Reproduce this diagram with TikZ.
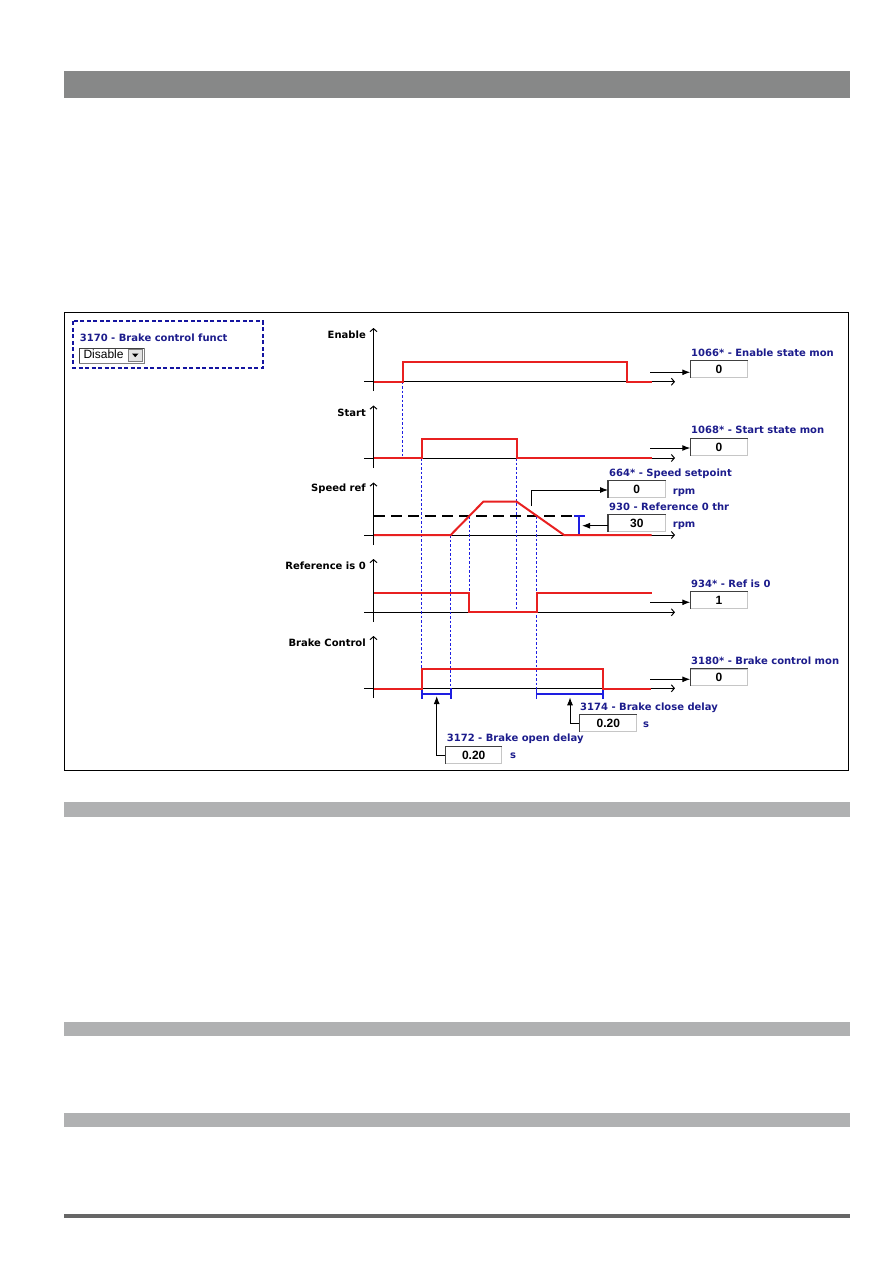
\documentclass[tikz,border=0pt]{standalone}
\usepackage{fontspec}
\setmainfont{DejaVu Sans}
\newfontfamily\guifont{Liberation Sans}
\usetikzlibrary{arrows.meta}
\definecolor{sigred}{RGB}{232,32,32}
\definecolor{lblue}{RGB}{28,28,140}
\definecolor{dblue}{RGB}{30,30,225}
\definecolor{boxblue}{RGB}{20,20,160}
\definecolor{bardark}{RGB}{135,136,136}
\definecolor{barlight}{RGB}{176,177,178}
\definecolor{rulegray}{RGB}{102,102,102}
\begin{document}
\begin{tikzpicture}[x=1pt,y=-1pt,
  sig/.style={sigred, line width=2pt, line join=miter},
  axis/.style={black, line width=1pt},
  axarrow/.style={axis, -{Straight Barb[length=3pt,width=7pt]}},
  vdot/.style={dblue, line width=1.4pt, dash pattern=on 2.5pt off 2pt},
  feed/.style={black, line width=1pt, -{Latex[length=8pt,width=6pt]}},
  brk/.style={dblue, line width=1.8pt},
  lbl/.style={anchor=base west, text=lblue, font=\fontsize{10}{12}\selectfont\bfseries, inner sep=0pt},
  sname/.style={anchor=base east, font=\fontsize{10}{12}\selectfont\bfseries, inner sep=0pt},
  valbox/.style={draw=gray!45, line width=1pt, fill=white, minimum width=56.5pt, minimum height=16.5pt, inner sep=0pt, font=\guifont\fontsize{12}{14}\selectfont\bfseries}
]
\useasboundingbox (0,0) rectangle (893,1263);

% page bars
\fill[bardark] (64,71) rectangle (850,98);
\fill[barlight] (64,802) rectangle (850,817);
\fill[barlight] (64,1022) rectangle (850,1036);
\fill[barlight] (64,1113) rectangle (850,1127);
\fill[rulegray] (64,1214) rectangle (850,1217.5);

% frame
\draw[line width=1pt] (64,312) rectangle (848,770);

% brake control funct selector
\draw[boxblue, line width=1.8pt, dash pattern=on 4pt off 2.5pt] (73.3,321.3) rectangle (262.7,368);
\node[lbl] (l3170) at (79.7,341) {3170 - Brake control funct};
\node[draw=gray, fill=white, minimum width=65pt, minimum height=14.7pt, inner sep=0pt, anchor=north west] (dd) at (79,348) {};
\draw[black!75, line width=1pt] (dd.south west) -- (dd.north west) -- (dd.north east);
\node[anchor=base west, inner sep=0pt, font=\guifont\fontsize{12}{14}\selectfont] (ddtxt) at (83.3,358.7) {Disable};
\draw[gray, fill=gray!22] (128,349.5) rectangle (142.5,361.5);
\fill (132,353.5) -- (138.5,353.5) -- (135.25,357.2) -- cycle;

% signal names
\node[sname] (nEnable) at (366,338.3) {Enable};
\node[sname] (nStart) at (366,416) {Start};
\node[sname] (nSpeed) at (366,491.7) {Speed ref};
\node[sname] (nRef) at (366,569) {Reference is 0};
\node[sname] (nBrake) at (366,646.7) {Brake Control};

% axes
\foreach \yb/\yt/\yz in {391/328/381.7, 468/405.5/458, 545/482.5/535, 622/559/612.3, 698/636/688.3}{
  \draw[axarrow] (373.5,\yb) -- (373.5,\yt);
  \draw[axarrow] (364,\yz) -- (675,\yz);
}

% threshold dashed line
\draw[black, line width=1.6pt, dash pattern=on 11pt off 6pt] (374,516) -- (580,516);

% dotted verticals
\draw[vdot] (402.7,381.7) -- (402.7,458);
\draw[vdot] (421.7,458) -- (421.7,698);
\draw[vdot] (450.7,535) -- (450.7,698);
\draw[vdot] (469.3,516) -- (469.3,612);
\draw[vdot] (516.7,458) -- (516.7,612);
\draw[vdot] (536.5,516) -- (536.5,698);

% brackets
\draw[brk] (421.7,688) -- (421.7,699) (421.7,694) -- (450.7,694) (450.7,688) -- (450.7,699);
\draw[brk] (536.5,688) -- (536.5,699) (536.5,694) -- (602.7,694) (602.7,688) -- (602.7,699);
\draw[brk] (579.3,516) -- (579.3,535.3) (574,516) -- (585,516) (574,535.3) -- (585,535.3);

% red signals
\draw[sig] (374,381.7) -- (402.7,381.7) -- (402.7,362.3) -- (626.7,362.3) -- (626.7,381.7) -- (651.7,381.7);
\draw[sig] (374,458) -- (421.7,458) -- (421.7,439) -- (516.7,439) -- (516.7,458) -- (651.7,458);
\draw[sig] (374,535) -- (450.7,535) -- (483.3,501.7) -- (516.7,501.7) -- (564,535) -- (651.7,535);
\draw[sig] (374,593) -- (469.3,593) -- (469.3,612) -- (536.5,612) -- (536.5,593) -- (651.7,593);
\draw[sig] (374,688.5) -- (421.7,688.5) -- (421.7,669.3) -- (602.7,669.3) -- (602.7,688.5) -- (651,688.5);

% value boxes
\node[valbox] (b1066) at (719,369) {0};
\node[valbox] (b1068) at (719,447) {0};
\node[valbox] (b664) at (636.8,489) {0};
\node[valbox] (b930) at (636.8,523.2) {30};
\node[valbox] (b934) at (719,600) {1};
\node[valbox] (b3180) at (719,677.3) {0};
\node[valbox, minimum width=56pt] (b3172) at (473.7,755) {0.20};
\node[valbox, minimum width=56.7pt] (b3174) at (608.3,723) {0.20};
\foreach \b in {b1066,b1068,b664,b930,b934,b3180,b3172,b3174}{
  \draw[black!75, line width=1.3pt] (\b.south west) -- (\b.north west) -- (\b.north east);
}

% labels
\node[lbl] (l1066) at (691,356) {1066* - Enable state mon};
\node[lbl] (l1068) at (691,433.3) {1068* - Start state mon};
\node[lbl] (l664) at (609,476) {664* - Speed setpoint};
\node[lbl] (l930) at (609,510) {930 - Reference 0 thr};
\node[lbl] (l934) at (691,587.3) {934* - Ref is 0};
\node[lbl] (l3180) at (691,664) {3180* - Brake control mon};
\node[lbl] (l3172) at (446.7,741.7) {3172 - Brake open delay};
\node[lbl] (l3174) at (580,710) {3174 - Brake close delay};
\node[lbl] (u664) at (672.7,494) {rpm};
\node[lbl] (u930) at (672.7,527.3) {rpm};
\node[lbl] (u3172) at (510,758) {s};
\node[lbl] (u3174) at (643,727) {s};

% monitor arrows
\coordinate (e1) at (650,372.3);
\coordinate (e2) at (650,448);
\coordinate (e3) at (650,602.3);
\coordinate (e4) at (650,679.3);
\draw[feed] (e1) -- (e1 -| b1066.west);
\draw[feed] (e2) -- (e2 -| b1068.west);
\draw[feed] (e3) -- (e3 -| b934.west);
\draw[feed] (e4) -- (e4 -| b3180.west);

% speed setpoint arrow
\coordinate (sp0) at (531.7,506);
\coordinate (sp1) at (531.7,490);
\draw[feed] (sp0) -- (sp1) -- (sp1 -| b664.west);

% threshold arrow
\coordinate (th) at (582,525.7);
\draw[feed] (b930.west |- th) -- (th);

% delay arrows
\coordinate (od) at (436.7,696);
\coordinate (cd) at (570,697.3);
\draw[feed] (b3172.west) -| (od);
\draw[feed] (b3174.west) -| (cd);
\end{tikzpicture}
\end{document}
